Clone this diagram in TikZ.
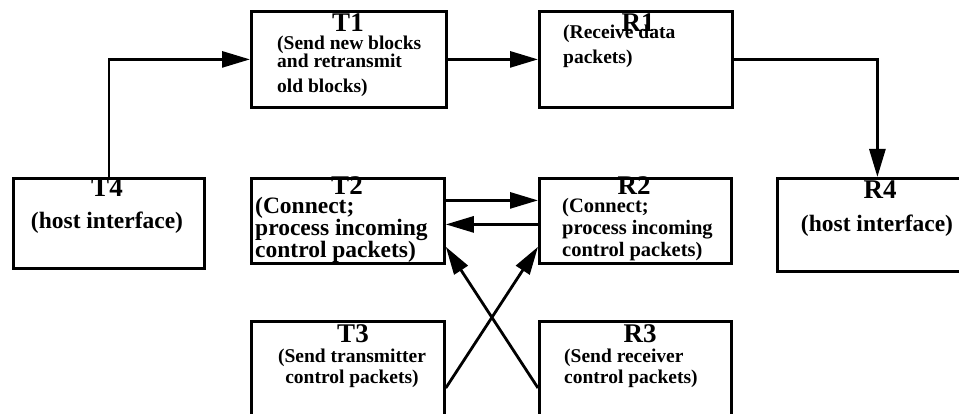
\documentclass[tikz,border=0pt]{standalone}
\usepackage{fontspec}
\setmainfont{Liberation Serif}
\usetikzlibrary{arrows.meta}
\begin{document}
\begin{tikzpicture}[x=1pt,y=-1pt,
  stage/.style={draw, line width=2.8pt, rectangle, inner sep=0pt, anchor=north west},
  title/.style={font=\fontsize{27}{27}\selectfont\bfseries, inner sep=0pt, anchor=base},
  smallbody/.style={font=\fontsize{19.5}{21}\selectfont\bfseries, inner sep=0pt, align=left, anchor=base west},
  midbody/.style={font=\fontsize{20.5}{22}\selectfont\bfseries, inner sep=0pt, align=left, anchor=base west},
  bigbody/.style={font=\fontsize{23.5}{22}\selectfont\bfseries, inner sep=0pt, align=left, anchor=base west},
  flow/.style={line width=2.8pt, -{Triangle[length=28pt,width=16pt]}}]
\fill[white] (0,0) rectangle (959,414);
\useasboundingbox (0,0) rectangle (959,414);
\begin{scope}
  \clip (0,0) rectangle (959,414);
  % process boxes
  \node[stage, minimum width=195pt, minimum height=96pt] (T1) at (250,10) {};
  \node[stage, minimum width=193pt, minimum height=96pt] (R1) at (538,10) {};
  \node[stage, minimum width=191pt, minimum height=90pt] (T4) at (12,177) {};
  \node[stage, minimum width=193pt, minimum height=85pt] (T2) at (250,177) {};
  \node[stage, minimum width=192pt, minimum height=85pt] (R2) at (538,177) {};
  \node[stage, minimum width=200pt, minimum height=93pt] (R4) at (776,177) {};
  \node[stage, minimum width=193pt, minimum height=110pt] (T3) at (250,320) {};
  \node[stage, minimum width=192pt, minimum height=110pt] (R3) at (538,320) {};
\end{scope}

% box labels (multi-line texts are placed by the baseline of their last line)
\node[title] (T1t) at (348,32) {T1};
\node[smallbody] (T1b) at (277,93) {(Send new blocks\\[-3pt]and retransmit\\[4pt]old blocks)};
\node[title] (R1t) at (638,32) {R1};
\node[smallbody] (R1b) at (563,64) {(Receive data\\[4pt]packets)};
\node[title] (T4t) at (107,197) {T4};
\node[bigbody, anchor=base] (T4b) at (107,229) {(host interface)};
\node[title] (T2t) at (347,195) {T2};
\node[bigbody] (T2b) at (255,258) {(Connect;\\process incoming\\control packets)};
\node[title] (R2t) at (634,195) {R2};
\node[midbody] (R2b) at (562,257) {(Connect;\\process incoming\\control packets)};
\node[title] (R4t) at (880,199) {R4};
\node[bigbody, anchor=base] (R4b) at (877,232) {(host interface)};
\node[title] (T3t) at (353,342) {T3};
\node[smallbody, align=center, anchor=base] (T3b) at (352,383) {(Send transmitter\\control packets)};
\node[title] (R3t) at (640,342) {R3};
\node[smallbody] (R3b) at (564,383) {(Send receiver\\control packets)};

% data path
\draw[flow] (T4.north) |- (T1.west);
\draw[flow] (T1.east) -- (R1.west);
\draw[flow] (R1.east) -| (R4.north);
% control path
\draw[flow] ([yshift=20.5pt]T2.east) -- ([yshift=20.5pt]R2.west);
\draw[flow] ([yshift=-3.5pt]R2.west) -- ([yshift=-3.5pt]T2.east);
\draw[flow] ([yshift=-68pt]T3.north east) -- ([yshift=18pt]R2.south west);
\draw[flow] ([yshift=-68pt]R3.north west) -- ([yshift=18pt]T2.south east);
\end{tikzpicture}
\end{document}
